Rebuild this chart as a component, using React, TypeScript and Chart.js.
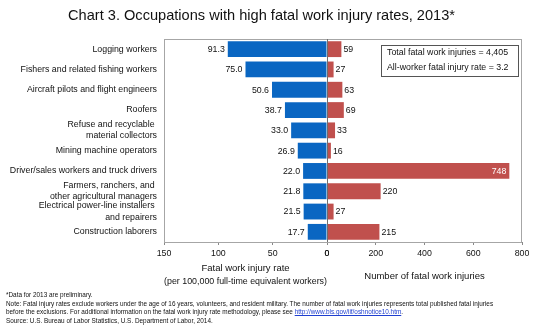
import React, { useEffect, useRef } from "react";
import { Chart, registerables } from "chart.js";

Chart.register(...registerables);

const FONT = "'Liberation Sans', Arial, sans-serif";

const chartTitle = "Chart 3. Occupations with high fatal work injury rates, 2013*";
const categories: (string | string[])[] = [
  "Logging workers",
  "Fishers and related fishing workers",
  "Aircraft pilots and flight engineers",
  "Roofers",
  ["Refuse and recyclable ", "material collectors"],
  "Mining machine operators",
  "Driver/sales workers and truck drivers",
  ["Farmers, ranchers, and ", "other agricultural managers"],
  ["Electrical power-line installers ", "and repairers"],
  "Construction laborers",
];
const rates = [91.3, 75.0, 50.6, 38.7, 33.0, 26.9, 22.0, 21.8, 21.5, 17.7];
const fatalities = [59, 27, 63, 69, 33, 16, 748, 220, 27, 215];
const rateTicks = [0, 50, 100, 150];
const fatalityTicks = [0, 200, 400, 600, 800];
const rateAxisTitle = ["Fatal work injury rate", "(per 100,000 full-time equivalent workers)"];
const fatalityAxisTitle = "Number of fatal work injuries";
const infoLines = ["Total fatal work injuries = 4,405", "All-worker fatal injury rate = 3.2"];
const footnote1 = "*Data for 2013 are preliminary.";
const footnote2 =
  "Note: Fatal injury rates exclude workers under the age of 16 years, volunteers, and resident military. The number of fatal work injuries represents total published fatal injuries";
const footnote3 = "before the exclusions. For additional information on the fatal work injury rate methodology, please see ";
const footnoteLink = "http://www.bls.gov/iif/oshnotice10.htm";
const footnote4 = "Source: U.S. Bureau of Labor Statistics, U.S. Department of Labor, 2014.";

const BLUE = "#0A66C2";
const RED = "#C0504D";
const LABEL_SIZE = 8.8;

const overlayPlugin = {
  id: "overlay",
  afterDatasetsDraw(chart: any) {
    const { ctx, chartArea } = chart;
    const ca = chartArea;
    ctx.save();
    // frame
    ctx.strokeStyle = "#A6A6A6";
    ctx.lineWidth = 1;
    ctx.strokeRect(Math.round(ca.left) + 0.5, Math.round(ca.top) + 0.5, Math.round(ca.right - ca.left) - 1, Math.round(ca.bottom - ca.top));
    // zero line
    const zx = Math.round(chart.scales.xR.getPixelForValue(0)) + 0.5;
    ctx.strokeStyle = "#6E6E6E";
    ctx.beginPath();
    ctx.moveTo(zx, ca.top);
    ctx.lineTo(zx, ca.bottom);
    ctx.stroke();

    // value labels
    ctx.font = `${LABEL_SIZE}px ${FONT}`;
    ctx.textBaseline = "middle";
    const m0 = chart.getDatasetMeta(0);
    m0.data.forEach((bar: any, i: number) => {
      const { x, y } = bar.getProps(["x", "y"], true);
      ctx.fillStyle = "#111";
      ctx.textAlign = "right";
      ctx.fillText(rates[i].toFixed(1), x - 3, y + 0.5);
    });
    const m1 = chart.getDatasetMeta(1);
    m1.data.forEach((bar: any, i: number) => {
      const { x, y } = bar.getProps(["x", "y"], true);
      const txt = String(fatalities[i]);
      if (x + ctx.measureText(txt).width + 4 > ca.right - 10) {
        ctx.fillStyle = "#fff";
        ctx.textAlign = "right";
        ctx.fillText(txt, x - 3, y + 0.5);
      } else {
        ctx.fillStyle = "#111";
        ctx.textAlign = "left";
        ctx.fillText(txt, x + 2, y + 0.5);
      }
    });

    // info box
    const bw = 137;
    const bh = 31;
    const bx = Math.round(ca.right) - 4 - bw;
    const by = Math.round(ca.top) + 6;
    ctx.fillStyle = "#fff";
    ctx.fillRect(bx, by, bw, bh);
    ctx.strokeStyle = "#555";
    ctx.strokeRect(bx + 0.5, by + 0.5, bw, bh);
    ctx.fillStyle = "#111";
    ctx.textAlign = "left";
    ctx.fillText(infoLines[0], bx + 6, by + 8);
    ctx.fillText(infoLines[1], bx + 6, by + 23);
    ctx.restore();
  },
};

export default function App() {
  const ref = useRef<HTMLCanvasElement | null>(null);
  useEffect(() => {
    if (!ref.current) return;
    const tickFont = { family: FONT, size: LABEL_SIZE };
    const chart = new Chart(ref.current, {
      type: "bar",
      data: {
        labels: categories,
        datasets: [
          { data: rates, backgroundColor: BLUE, xAxisID: "xL", barPercentage: 0.78, categoryPercentage: 1, grouped: false },
          { data: fatalities, backgroundColor: RED, xAxisID: "xR", barPercentage: 0.78, categoryPercentage: 1, grouped: false },
        ],
      },
      options: {
        indexAxis: "y",
        responsive: false,
        animation: false,
        devicePixelRatio: 1,
        layout: { padding: { top: 39, right: 13, bottom: 37, left: 0 } },
        plugins: { legend: { display: false }, tooltip: { enabled: false }, title: { display: false } },
        scales: {
          y: {
            type: "category",
            grid: { display: false, drawTicks: false },
            border: { display: false },
            ticks: { font: { ...tickFont, lineHeight: 1.3 }, color: "#111", padding: 7, autoSkip: false },
            afterFit: (s: any) => {
              s.width = 164;
            },
          },
          xL: {
            type: "linear",
            position: "bottom",
            stack: "x",
            stackWeight: 163,
            reverse: true,
            min: 0,
            max: 150,
            grid: { display: true, drawOnChartArea: false, drawTicks: true, tickLength: 3, color: "#888" },
            border: { display: false },
            ticks: { font: tickFont, color: "#111", padding: 3, maxRotation: 0 },
            afterBuildTicks: (s: any) => {
              s.ticks = rateTicks.map((v) => ({ value: v }));
            },
            title: { display: true, text: rateAxisTitle, font: { family: FONT, size: 9.5, lineHeight: "13px" }, color: "#111", padding: { top: 0, bottom: 2.5 } },
            afterFit: (s: any) => {
              s.height = 48;
            },
          },
          xR: {
            type: "linear",
            position: "bottom",
            stack: "x",
            stackWeight: 195,
            min: 0,
            max: 800,
            grid: { display: true, drawOnChartArea: false, drawTicks: true, tickLength: 3, color: "#888" },
            border: { display: false },
            ticks: { font: tickFont, color: "#111", padding: 3, maxRotation: 0 },
            afterBuildTicks: (s: any) => {
              s.ticks = fatalityTicks.map((v) => ({ value: v }));
            },
            title: { display: true, text: fatalityAxisTitle, font: { family: FONT, size: 9.5, lineHeight: "13px" }, color: "#111", padding: { top: 0, bottom: 7 } },
            afterFit: (s: any) => {
              s.height = 48;
            },
          },
        },
      } as any,
      plugins: [overlayPlugin],
    });
    return () => chart.destroy();
  }, []);

  return (
    <div style={{ position: "absolute", left: 0, top: 0, width: 535, height: 327, background: "#fff", overflow: "hidden" }}>
      <canvas ref={ref} width={535} height={327} style={{ position: "absolute", left: 0, top: 0 }} />
      <div
        style={{
          position: "absolute",
          left: 0,
          top: 5,
          width: 523,
          textAlign: "center",
          fontFamily: FONT,
          fontSize: 14.6,
          lineHeight: "20px",
          color: "#111",
          whiteSpace: "nowrap",
        }}
      >
        {chartTitle}
      </div>
      <div
        style={{
          position: "absolute",
          left: 6,
          top: 291,
          fontFamily: FONT,
          fontSize: 6.4,
          lineHeight: "8.6px",
          color: "#111",
          whiteSpace: "nowrap",
        }}
      >
        <div>{footnote1}</div>
        <div>{footnote2}</div>
        <div>
          {footnote3}
          <span style={{ color: "#1F3FD0", textDecoration: "underline" }}>{footnoteLink}</span>.
        </div>
        <div>{footnote4}</div>
      </div>
    </div>
  );
}
